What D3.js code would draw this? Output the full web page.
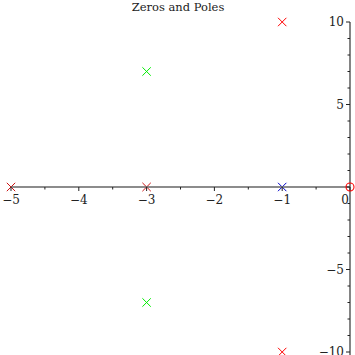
<!DOCTYPE html>
<html>
<head>
<meta charset="utf-8">
<script src="https://cdn.jsdelivr.net/npm/d3@7"></script>
<style>
  body { margin: 0; background: #fff; }
  text { font-family: "DejaVu Serif", serif; }
</style>
</head>
<body>
<div id="chart"></div>
<script>
// data: poles (x markers) and zeros (circles)
const poleRe = [-1, -1, -3, -3, -5, -3, -1];
const poleIm = [10, -10, 7, -7, 0, 0, 0];
const poleColor = ['#ff0000', '#ff0000', '#00ee00', '#00ee00', '#cc1111', '#cc1111', '#0000cc'];
const zeroRe = [0];
const zeroIm = [0];
const xTicks = [-5, -4, -3, -2, -1, 0];
const yTicks = [-10, -5, 5, 10];
const titleText = 'Zeros and Poles';

const W = 355, H = 355;
const svg = d3.select('#chart').append('svg')
  .attr('width', W).attr('height', H);

const x = d3.scaleLinear().domain([-5, 0]).range([11, 350]);
const y = d3.scaleLinear().domain([-10, 10]).range([352, 22]);

const fmt = v => v < 0 ? '\u2212' + Math.abs(v) : String(v);

// markers
const xs = 4.2;
const poles = svg.append('g');
poleRe.forEach((re, i) => {
  const cx = x(re), cy = y(poleIm[i]);
  poles.append('path')
    .attr('d', `M${cx - xs},${cy - xs}L${cx + xs},${cy + xs}M${cx - xs},${cy + xs}L${cx + xs},${cy - xs}`)
    .attr('stroke', poleColor[i])
    .attr('stroke-width', 1)
    .attr('fill', 'none');
});

// axes
const ax = svg.append('g').attr('stroke', '#666');
ax.append('line')
  .attr('x1', x(-5)).attr('x2', x(0))
  .attr('y1', y(0)).attr('y2', y(0))
  .attr('stroke-width', 1.6);
ax.append('line')
  .attr('x1', x(0)).attr('x2', x(0))
  .attr('y1', y(10)).attr('y2', H)
  .attr('stroke-width', 1.6);

// x ticks
d3.range(-5, 0.01, 0.5).forEach(v => {
  const major = Number.isInteger(v);
  ax.append('line')
    .attr('x1', x(v)).attr('x2', x(v))
    .attr('y1', y(0)).attr('y2', y(0) + (major ? 4 : 2.5))
    .attr('stroke', '#222').attr('stroke-width', 1);
});
// y ticks
d3.range(-10, 10.01, 1).forEach(v => {
  const major = v % 5 === 0;
  ax.append('line')
    .attr('x1', x(0)).attr('x2', x(0) - (major ? 4 : 2.5))
    .attr('y1', y(v)).attr('y2', y(v))
    .attr('stroke', '#222').attr('stroke-width', 1);
});

// zeros
zeroRe.forEach((re, i) => {
  svg.append('circle')
    .attr('cx', x(re)).attr('cy', y(zeroIm[i]))
    .attr('r', 4)
    .attr('fill', 'none')
    .attr('stroke', '#ff0000')
    .attr('stroke-width', 1.1);
});

// tick labels
svg.append('g').selectAll('text')
  .data(xTicks)
  .join('text')
  .attr('x', d => d === 0 ? x(d) - 5 : x(d))
  .attr('y', y(0) + 17)
  .attr('text-anchor', 'middle')
  .attr('font-size', 12)
  .attr('fill', '#222')
  .text(fmt);

svg.append('g').selectAll('text')
  .data(yTicks)
  .join('text')
  .attr('x', x(0) - 6)
  .attr('y', d => y(d) + 4)
  .attr('text-anchor', 'end')
  .attr('font-size', 12)
  .attr('fill', '#222')
  .text(fmt);

// title
svg.append('text')
  .attr('x', 178).attr('y', 11)
  .attr('text-anchor', 'middle')
  .attr('font-size', 11.5)
  .attr('fill', '#222')
  .text(titleText);
</script>
</body>
</html>
